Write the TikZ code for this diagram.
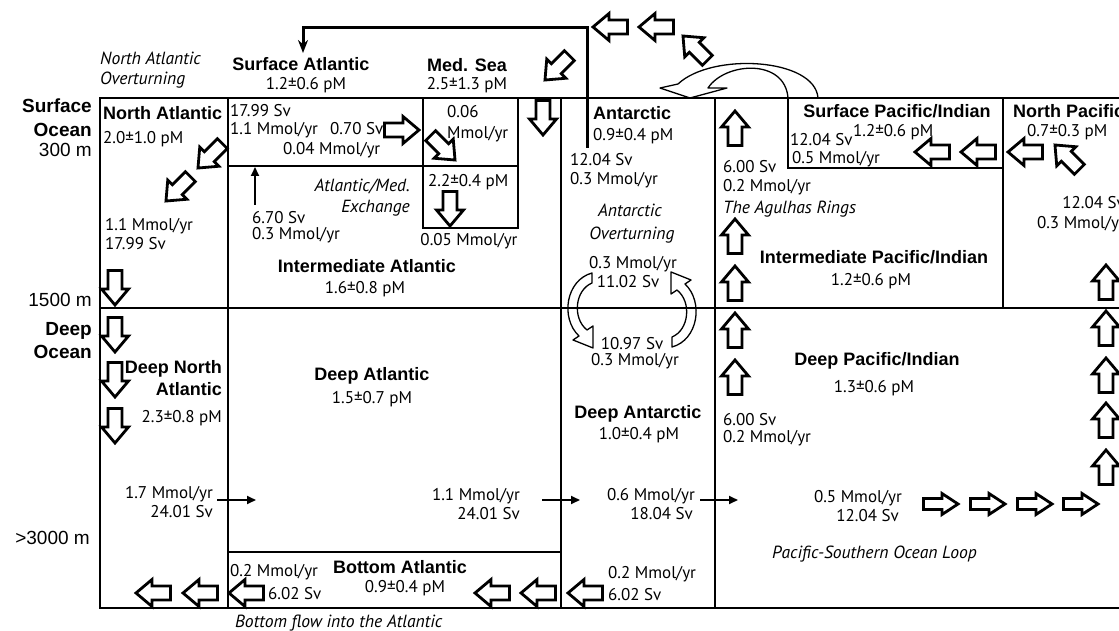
\documentclass[tikz,border=0pt]{standalone}
\usepackage{fontspec}
\setmainfont{PT Sans}
\newfontfamily\helv{Liberation Sans}
\usetikzlibrary{arrows.meta, positioning}

\tikzset{
	box/.style = {line width=1.6pt},
	txt/.style = {inner sep=0pt, font=\fontsize{17}{19}\selectfont},
	itxt/.style = {inner sep=0pt, font=\fontsize{17.6}{19}\selectfont\itshape},
	ttl/.style = {inner sep=0pt, font=\helv\bfseries\fontsize{18}{20}\selectfont},
	lvl/.style = {inner sep=0pt, font=\helv\fontsize{19}{21}\selectfont},
	lvlb/.style = {inner sep=0pt, font=\helv\bfseries\fontsize{19}{21}\selectfont},
	hollow/.style = {draw, fill=white, line width=2.8pt, miter limit=10},
	curvy/.style = {draw, line width=1.3pt, line join=round},
	thin arrow/.style = {line width=1.8pt, -{Triangle[length=9pt, width=8pt]}},
	return/.style = {line width=3pt, -{Stealth[length=13pt, width=10pt]}},
	blockarr/.pic = {\path[hollow] (-17.5,-7) -- (1,-7) -- (1,-13.5) -- (17,0) -- (1,13.5) -- (1,7) -- (-17.5,7) -- cycle;},
}

\begin{document}
\begin{tikzpicture}[x=1pt, y=-1pt]
	\useasboundingbox (0,0) rectangle (1119,631);

	\draw[box] (1125,98) -- (100,98) -- (100,608) -- (1125,608);
	\draw[box] (100,308) -- (1125,308);
	\draw[box] (228,98) -- (228,608);
	\draw[box] (561,98) -- (561,608);
	\draw[box] (715,98) -- (715,608);
	\draw[box] (228,166) -- (423,166);
	\draw[box] (423,98) rectangle (518,228);
	\draw[box] (423,166) -- (518,166);
	\draw[box] (228,552) -- (561,552);
	\draw[box] (788,98) |- (1003,168);
	\draw[box] (1003,98) -- (1003,308);

	\coordinate (antLine) at (587,148);
	\coordinate (retCorner) at (303,28);
	\coordinate (satIn) at (303,53);
	\draw[return] (antLine) |- (retCorner) -- (satIn);

	\pic[rotate=225] at (210,156) {blockarr};
	\pic[rotate=225] at (178,189) {blockarr};
	\foreach \y in {288,335,380,426} \pic[rotate=270] at (115,\y) {blockarr};
	\foreach \x in {153,200,246,492,538,585} \pic[rotate=180] at (\x,593) {blockarr};
	\pic at (402,130) {blockarr};
	\pic[rotate=315] at (443,148) {blockarr};
	\pic[rotate=270] at (450,209) {blockarr};
	\pic[rotate=270] at (543,118) {blockarr};
	\pic[rotate=225] at (557,68) {blockarr};
	\pic[rotate=180] at (610,27) {blockarr};
	\pic[rotate=180] at (656,27) {blockarr};
	\pic[rotate=135] at (695,48) {blockarr};
	\foreach \y in {128,236,283,330,377} \pic[rotate=90] at (735,\y) {blockarr};
	\foreach \y in {282,328,375,420,467} \pic[rotate=90] at (1106,\y) {blockarr};
	\foreach \x in {941,988,1035,1081} \pic[yscale=0.78] at (\x,504) {blockarr};
	\foreach \x in {932,978,1025} \pic[rotate=180] at (\x,152) {blockarr};
	\pic[rotate=135] at (1067,157) {blockarr};

	\draw[curvy] (818,98) .. controls (815,58) and (712,52) .. (678,84) -- (660,88) -- (690,98) -- (727,88) -- (708,88) .. controls (725,62) and (785,58) .. (788,98);
	\draw[curvy] (592,273) .. controls (566,280) and (560,318) .. (579,336) -- (573,340) -- (593,348) -- (593,326) -- (587,330) .. controls (572,318) and (575,290) .. (592,283) -- cycle;
	\draw[curvy] (672,347) .. controls (698,340) and (704,302) .. (685,284) -- (691,280) -- (671,272) -- (671,294) -- (677,290) .. controls (692,302) and (689,330) .. (672,337) -- cycle;

	\coordinate (exUp) at (255,205);
	\coordinate (exTop) at (255,167);
	\draw[thin arrow] (exUp) -- (exTop);
	\coordinate (dnaOut) at (217,500);
	\coordinate (daIn) at (256,500);
	\draw[thin arrow] (dnaOut) -- (daIn);
	\coordinate (daOut) at (542,500);
	\coordinate (dantIn) at (580,500);
	\draw[thin arrow] (daOut) -- (dantIn);
	\coordinate (dantOut) at (700,500);
	\coordinate (dpiIn) at (738,500);
	\draw[thin arrow] (dantOut) -- (dpiIn);

	\node[lvlb, anchor=base east] (sfcLbl) at (92,113) {Surface};
	\node[lvlb, anchor=base east] (sfcOcean) at (92,137) {Ocean};
	\node[lvl, anchor=base east] (d300) at (92,157) {300 m};
	\node[lvl, anchor=base east] (d1500) at (92,306) {1500 m};
	\node[lvlb, anchor=base east] (deepLbl) at (92,335) {Deep};
	\node[lvlb, anchor=base east] (deepOcean) at (92,358) {Ocean};
	\node[lvl, anchor=base east] (d3000) at (90,544) {>3000 m};

	\node[itxt, anchor=base west] (naoA) at (100,65) {North Atlantic};
	\node[itxt, anchor=base west] (naoB) at (100,85) {Overturning};
	\node[ttl, anchor=base] (satl) at (301,71) {Surface Atlantic};
	\node[txt, anchor=base] (satlC) at (306,90) {1.2±0.6 pM};
	\node[ttl, anchor=base] (med) at (467,72) {Med. Sea};
	\node[txt, anchor=base] (medC) at (467,90) {2.5±1.3 pM};

	\node[ttl, anchor=base west] (na) at (103,120) {North Atlantic};
	\node[txt, anchor=base west] (naC) at (103,144) {2.0±1.0 pM};
	\node[txt, anchor=base west] (naF1) at (105,230) {1.1 Mmol/yr};
	\node[txt, anchor=base west] (naF2) at (105,250) {17.99 Sv};
	\node[ttl, anchor=base east] (dna1) at (222,373) {Deep North};
	\node[ttl, anchor=base east] (dna2) at (222,395) {Atlantic};
	\node[txt, anchor=base east] (dnaC) at (222,422) {2.3±0.8 pM};
	\node[txt, anchor=base east] (dnaF1) at (213,498) {1.7 Mmol/yr};
	\node[txt, anchor=base east] (dnaF2) at (213,517) {24.01 Sv};

	\node[txt, anchor=base west] (exA) at (230,117) {17.99 Sv};
	\node[txt, anchor=base west] (exB) at (230,135) {1.1 Mmol/yr};
	\node[txt, anchor=base west] (exC) at (330,135) {0.70 Sv};
	\node[txt, anchor=base west] (exD) at (283,155) {0.04 Mmol/yr};
	\node[itxt, anchor=base east] (exE) at (410,192) {Atlantic/Med.};
	\node[itxt, anchor=base east] (exF) at (410,213) {Exchange};
	\node[txt, anchor=base west] (exG) at (252,223) {6.70 Sv};
	\node[txt, anchor=base west] (exH) at (252,240) {0.3 Mmol/yr};
	\node[ttl, anchor=base] (ia) at (367,272) {Intermediate Atlantic};
	\node[txt, anchor=base] (iaC) at (365,293) {1.6±0.8 pM};

	\node[txt, anchor=base west] (medA) at (447,118) {0.06};
	\node[txt, anchor=base west] (medB) at (447,139) {Mmol/yr};
	\node[txt, anchor=base west] (medD) at (428,187) {2.2±0.4 pM};
	\node[txt, anchor=base] (medE) at (469,245) {0.05 Mmol/yr};

	\node[ttl, anchor=base] (da) at (372,380) {Deep Atlantic};
	\node[txt, anchor=base] (daC) at (372,403) {1.5±0.7 pM};
	\node[txt, anchor=base east] (daF1) at (520,500) {1.1 Mmol/yr};
	\node[txt, anchor=base east] (daF2) at (520,519) {24.01 Sv};

	\node[txt, anchor=base west] (baF1) at (230,576) {0.2 Mmol/yr};
	\node[txt, anchor=base west] (baF2) at (268,599) {6.02 Sv};
	\node[ttl, anchor=base] (ba) at (400,573) {Bottom Atlantic};
	\node[txt, anchor=base] (baC) at (405,592) {0.9±0.4 pM};
	\node[itxt, anchor=base west] (baFlow) at (235,627) {Bottom flow into the Atlantic};

	\node[ttl, anchor=base west] (ant) at (593,120) {Antarctic};
	\node[txt, anchor=base west] (antC) at (593,141) {0.9±0.4 pM};
	\node[txt, anchor=base west] (antF1) at (570,166) {12.04 Sv};
	\node[txt, anchor=base west] (antF2) at (570,185) {0.3 Mmol/yr};
	\node[itxt, anchor=base] (aoA) at (630,217) {Antarctic};
	\node[itxt, anchor=base] (aoB) at (632,240) {Overturning};
	\node[txt, anchor=base] (aoC) at (633,268) {0.3 Mmol/yr};
	\node[txt, anchor=base] (aoD) at (628,287) {11.02 Sv};
	\node[txt, anchor=base] (aoE) at (632,349) {10.97 Sv};
	\node[txt, anchor=base] (aoF) at (635,365) {0.3 Mmol/yr};
	\node[ttl, anchor=base] (dant) at (638,418) {Deep Antarctic};
	\node[txt, anchor=base] (dantC) at (639,439) {1.0±0.4 pM};
	\node[txt, anchor=base east] (dantF1) at (695,500) {0.6 Mmol/yr};
	\node[txt, anchor=base east] (dantF2) at (693,519) {18.04 Sv};
	\node[txt, anchor=base west] (dantF3) at (608,578) {0.2 Mmol/yr};
	\node[txt, anchor=base west] (dantF4) at (608,600) {6.02 Sv};

	\node[txt, anchor=base west] (agA) at (723,173) {6.00 Sv};
	\node[txt, anchor=base west] (agB) at (723,192) {0.2 Mmol/yr};
	\node[itxt, anchor=base west] (agC) at (723,214) {The Agulhas Rings};
	\node[ttl, anchor=base] (spi) at (897,118) {Surface Pacific/Indian};
	\node[txt, anchor=base west] (spiF1) at (790,146) {12.04 Sv};
	\node[txt, anchor=base west] (spiC) at (853,137) {1.2±0.6 pM};
	\node[txt, anchor=base west] (spiF2) at (792,164) {0.5 Mmol/yr};
	\node[ttl, anchor=base west] (np) at (1013,118) {North Pacific};
	\node[txt, anchor=base west] (npC) at (1027,137) {0.7±0.3 pM};
	\node[txt, anchor=base east] (npF1) at (1125,209) {12.04 Sv};
	\node[txt, anchor=base east] (npF2) at (1125,229) {0.3 Mmol/yr};
	\node[ttl, anchor=base] (ipi) at (874,263) {Intermediate Pacific/Indian};
	\node[txt, anchor=base] (ipiC) at (871,285) {1.2±0.6 pM};
	\node[ttl, anchor=base] (dpi) at (877,365) {Deep Pacific/Indian};
	\node[txt, anchor=base] (dpiC) at (874,392) {1.3±0.6 pM};
	\node[txt, anchor=base west] (dpiF1) at (723,425) {6.00 Sv};
	\node[txt, anchor=base west] (dpiF2) at (723,442) {0.2 Mmol/yr};
	\node[txt, anchor=base east] (dpiF3) at (902,502) {0.5 Mmol/yr};
	\node[txt, anchor=base east] (dpiF4) at (899,521) {12.04 Sv};
	\node[itxt, anchor=base west] (psl) at (772,558) {Pacific-Southern Ocean Loop};
\end{tikzpicture}
\end{document}
